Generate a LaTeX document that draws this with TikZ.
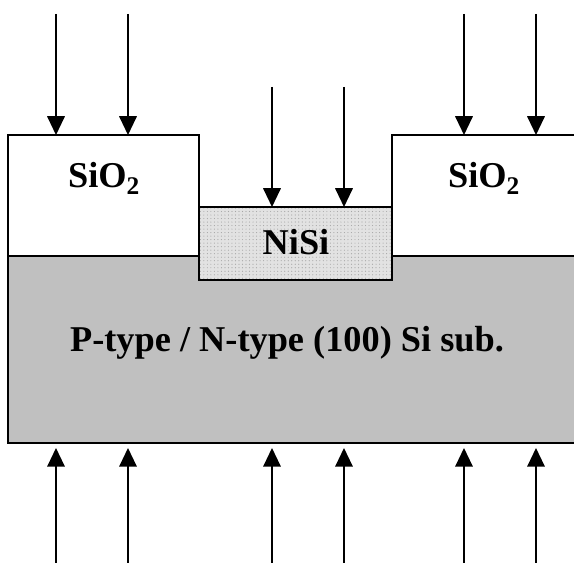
\documentclass[tikz,border=0pt]{standalone}
\usepackage{fontspec}
\setmainfont{Liberation Serif}
\usetikzlibrary{arrows.meta,patterns}

\definecolor{subgray}{RGB}{192,192,192}
\definecolor{nisigray}{RGB}{226,226,226}

\tikzset{
	layer/.style={draw=black, line width=1.5pt},
	beam/.style={line width=1.3pt, -{Triangle[width=15pt,length=16pt]}},
	lbl/.style={font=\bfseries\fontsize{31}{31}\selectfont, anchor=base, inner sep=0pt}
}

\begin{document}
\begin{tikzpicture}[x=0.03cm, y=0.03cm]
	\useasboundingbox (0,0) rectangle (574,563);
	\clip (0,0) rectangle (574,563);

	% === 衬底 ===
	\fill[subgray] (8,120) rectangle (590,307);
	\draw[layer] (8,120) rectangle (590,307);

	% === 氧化层 ===
	\draw[layer, fill=white] (8,307) rectangle (199,428);
	\draw[layer, fill=white] (392,307) rectangle (590,428);

	% === NiSi 层 ===
	\fill[nisigray] (199,283) rectangle (392,356);
	\fill[pattern=dots, pattern color=gray!70] (199,283) rectangle (392,356);
	\draw[layer] (199,283) rectangle (392,356);

	% 文字
	\node[lbl] (oxl) at (104,375) {SiO\textsubscript{2}};
	\node[lbl] (oxr) at (484,375) {SiO\textsubscript{2}};
	\node[lbl] (nisi) at (296,308) {NiSi};
	\node[lbl] (sub) at (287,211) {P-type / N-type (100) Si sub.};

	% === 入射箭头 ===
	\foreach \x in {56,128,464,536}
		\draw[beam] (\x,549) -- (\x,428);
	\foreach \x in {272,344}
		\draw[beam] (\x,476) -- (\x,356);
	\foreach \x in {56,128,272,344,464,536}
		\draw[beam] (\x,0) -- (\x,115);
\end{tikzpicture}
\end{document}
